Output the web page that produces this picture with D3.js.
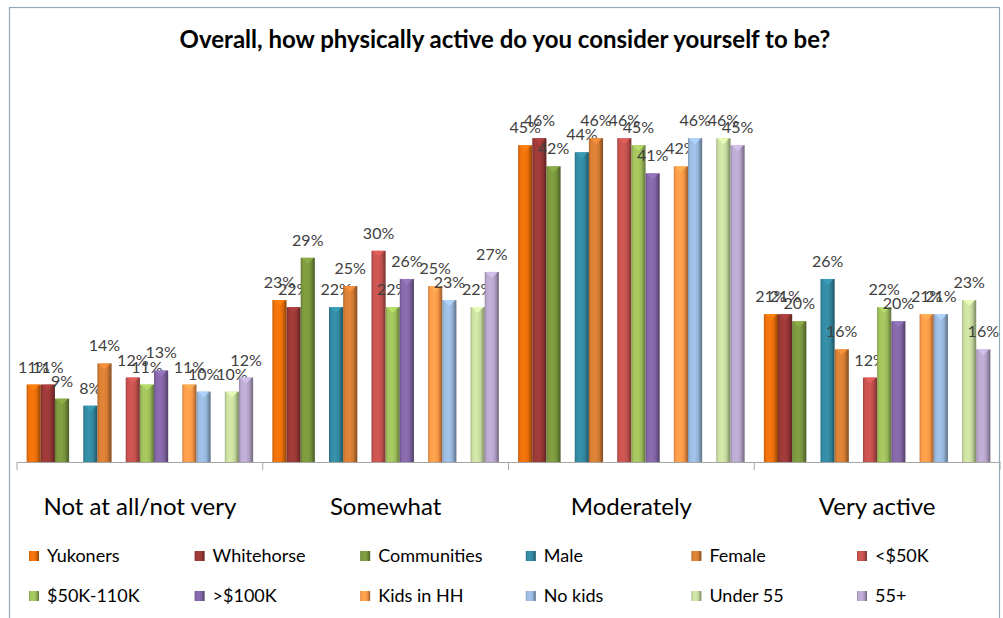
<!DOCTYPE html>
<html>
<head>
<meta charset="utf-8">
<script src="https://cdn.jsdelivr.net/npm/d3@7/dist/d3.min.js"></script>
<style>
  body { margin: 0; background: #fff; }
  svg text { font-family: Lato, "Open Sans", sans-serif; }
</style>
</head>
<body>
<div id="chart"></div>
<script>
var categories = ["Not at all/not very", "Somewhat", "Moderately", "Very active"];

var seriesNames = ["Yukoners", "Whitehorse", "Communities", "Male", "Female", "<$50K",
                   "$50K-110K", ">$100K", "Kids in HH", "No kids", "Under 55", "55+"];

var seriesColors = ["#E46C0A", "#953735", "#77933C", "#31859C", "#D07A32", "#C0504D",
                    "#9BBB59", "#8064A2", "#F79646", "#95B3D7", "#C3D69B", "#B3A2C7"];

// values per series, one per category (percent)
var yukoners    = [11, 23, 45, 21];
var whitehorse  = [11, 22, 46, 21];
var communities = [9, 29, 42, 20];
var male        = [8, 22, 44, 26];
var female      = [14, 25, 46, 16];
var under50k    = [12, 30, 46, 12];
var mid50k      = [11, 22, 45, 22];
var over100k    = [13, 26, 41, 20];
var kidsInHH    = [11, 25, 42, 21];
var noKids      = [10, 23, 46, 21];
var under55     = [10, 22, 46, 23];
var over55      = [12, 27, 45, 16];

var seriesValues = [yukoners, whitehorse, communities, male, female, under50k,
                    mid50k, over100k, kidsInHH, noKids, under55, over55];

// slot order inside each cluster; "" marks an empty spacer slot
var slotOrder = ["Yukoners", "Whitehorse", "Communities", "", "Male", "Female", "",
                 "<$50K", "$50K-110K", ">$100K", "", "Kids in HH", "No kids", "", "Under 55", "55+"];

var width = 1003, height = 618;

var svg = d3.select("#chart").append("svg")
    .attr("width", width)
    .attr("height", height);

// frame
svg.append("rect")
    .attr("x", 9.5).attr("y", 7.5)
    .attr("width", 990).attr("height", 640)
    .attr("fill", "#fff")
    .attr("stroke", "#8fabb4")
    .attr("stroke-width", 1.2);

svg.append("text")
    .attr("x", 505).attr("y", 48)
    .attr("text-anchor", "middle")
    .attr("font-size", 24)
    .attr("font-weight", "bold")
    .attr("fill", "#000")
    .text("Overall, how physically active do you consider yourself to be?");

var x0 = d3.scaleBand()
    .domain(categories)
    .range([17, 1000])
    .paddingInner(0)
    .paddingOuter(0);

var slotKeys = slotOrder.map(function(s, i) { return s === "" ? "gap" + i : s; });

var x1 = d3.scaleBand()
    .domain(slotKeys)
    .range([0, x0.bandwidth()])
    .paddingInner(0)
    .paddingOuter(0.68);

var y = d3.scaleLinear()
    .domain([0, 50])
    .range([462, 110]);

// gradients for bevel look
var defs = svg.append("defs");
seriesColors.forEach(function(c, i) {
    var base = d3.color(c);
    var g = defs.append("linearGradient")
        .attr("id", "grad" + i)
        .attr("x1", "0%").attr("x2", "100%").attr("y1", "0%").attr("y2", "0%");
    g.append("stop").attr("offset", "0%").attr("stop-color", base.darker(0.5));
    g.append("stop").attr("offset", "15%").attr("stop-color", base.brighter(0.15));
    g.append("stop").attr("offset", "45%").attr("stop-color", base.brighter(0.25));
    g.append("stop").attr("offset", "70%").attr("stop-color", base);
    g.append("stop").attr("offset", "85%").attr("stop-color", base.darker(0.6));
    g.append("stop").attr("offset", "100%").attr("stop-color", base.darker(1.3));
});

var barData = [];
categories.forEach(function(cat, ci) {
    seriesNames.forEach(function(name, si) {
        barData.push({ cat: cat, name: name, idx: si, value: seriesValues[si][ci] });
    });
});

var bw = x1.bandwidth();

var bars = svg.append("g").selectAll("g.bar")
    .data(barData)
    .enter().append("g")
    .attr("class", "bar")
    .attr("transform", function(d) { return "translate(" + (x0(d.cat) + x1(d.name)) + ",0)"; });

bars.append("rect")
    .attr("x", 0)
    .attr("y", function(d) { return y(d.value); })
    .attr("width", bw)
    .attr("height", function(d) { return y(0) - y(d.value); })
    .attr("fill", function(d) { return "url(#grad" + d.idx + ")"; });

// top bevel chevron
bars.append("path")
    .attr("d", function(d) {
        var t = y(d.value);
        return "M1," + t + "L" + (bw - 1) + "," + t + "L" + (bw / 2) + "," + (t + 6) + "Z";
    })
    .attr("fill", function(d) { return d3.color(seriesColors[d.idx]).brighter(0.5); })
    .attr("opacity", 0.85);

bars.append("text")
    .attr("x", bw / 2)
    .attr("y", function(d) { return y(d.value) - 12; })
    .attr("text-anchor", "middle")
    .attr("font-size", 16)
    .attr("fill", "#404040")
    .text(function(d) { return d.value + "%"; });

// axis line and ticks
var axis = d3.axisBottom(x0).tickSize(0).tickFormat("");
svg.append("g")
    .attr("transform", "translate(0,462)")
    .call(axis)
    .call(function(g) { g.select(".domain").attr("stroke", "#a6a6a6"); });

svg.append("g").selectAll("line")
    .data(categories.concat(["end"]))
    .enter().append("line")
    .attr("x1", function(d, i) { return i < categories.length ? x0(d) : x0.range()[1]; })
    .attr("x2", function(d, i) { return i < categories.length ? x0(d) : x0.range()[1]; })
    .attr("y1", 462).attr("y2", 470)
    .attr("stroke", "#a6a6a6");

svg.append("g").selectAll("text")
    .data(categories)
    .enter().append("text")
    .attr("x", function(d) { return x0(d) + x0.bandwidth() / 2; })
    .attr("y", 515)
    .attr("text-anchor", "middle")
    .attr("font-size", 24)
    .attr("fill", "#000")
    .text(function(d) { return d; });

// legend, 6 per row
var legend = svg.append("g").selectAll("g")
    .data(seriesNames)
    .enter().append("g")
    .attr("transform", function(d, i) {
        return "translate(" + (29 + (i % 6) * 165.6) + "," + (Math.floor(i / 6) * 40 + 556) + ")";
    });

legend.append("rect")
    .attr("x", 0).attr("y", -5)
    .attr("width", 10).attr("height", 10)
    .attr("fill", function(d, i) { return "url(#grad" + i + ")"; });

legend.append("text")
    .attr("x", 18).attr("y", 6)
    .attr("font-size", 18)
    .attr("fill", "#000")
    .text(function(d) { return d; });
</script>
</body>
</html>
